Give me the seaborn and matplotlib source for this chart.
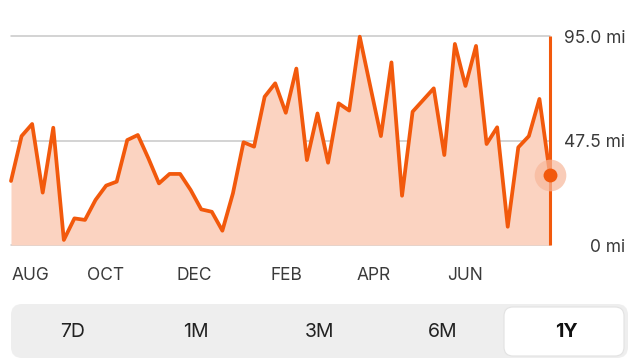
import numpy as np
import pandas as pd
import matplotlib
matplotlib.use("Agg")
import matplotlib.pyplot as plt
from matplotlib.patches import FancyBboxPatch
import seaborn as sns

# weekly distance over one year (miles)
miles = [29.1, 49.5, 55.0, 23.8, 53.3, 2.3, 12.1, 11.4, 20.5, 27.0,
         28.8, 47.7, 50.0, 39.4, 28.0, 32.3, 32.3, 25.0, 16.2, 15.1,
         6.5, 23.5, 46.7, 44.7, 67.4, 73.5, 60.1, 80.2, 38.6, 59.8,
         37.4, 64.4, 61.1, 94.7, 72.0, 49.5, 83.0, 22.4, 60.6, 65.9,
         71.2, 40.9, 91.4, 72.3, 90.5, 45.9, 53.5, 8.3, 44.4, 49.5,
         66.4, 31.8]
weeks = list(range(len(miles)))

month_labels = ["AUG", "OCT", "DEC", "FEB", "APR", "JUN"]
month_pos = [0.07, 7.2, 15.7, 24.6, 32.7, 41.3]

y_ticks = [0, 47.5, 95.0]
y_labels = ["0 mi", "47.5 mi", "95.0 mi"]

ranges = ["7D", "1M", "3M", "6M", "1Y"]
selected = "1Y"

ORANGE = "#F2590C"
FILL = "#FBD3C1"

sns.set_theme(style="white")
plt.rcParams['font.family'] = ['Inter', 'DejaVu Sans']

df = pd.DataFrame({"week": weeks, "miles": miles})

fig = plt.figure(figsize=(6.4, 3.6), dpi=100)
W, H = 640, 360
ax = fig.add_axes([11 / W, 1 - 245 / H, (550 - 11) / W, (245 - 36) / H])

for v in y_ticks:
    ax.axhline(v, color="#c8c8c8", lw=1.1, zorder=0, clip_on=False)

ax.fill_between(df["week"], df["miles"], 0, color=FILL, lw=0, zorder=1)
sns.lineplot(data=df, x="week", y="miles", ax=ax, color=ORANGE, lw=2.7,
             zorder=3, clip_on=False)

last = len(miles) - 1
ax.plot([last, last], [0, 95], color=ORANGE, lw=2.2, zorder=2,
        solid_capstyle="butt", clip_on=False)
ax.scatter([last], [miles[-1]], s=520, color="#F7B79A", alpha=0.7,
           lw=0, zorder=4, clip_on=False)
ax.scatter([last], [miles[-1]], s=100, color=ORANGE, lw=0, zorder=5,
           clip_on=False)

ax.set_xlim(0, last)
ax.set_ylim(0, 95)
ax.set_xlabel("")
ax.set_ylabel("")
for s in ax.spines.values():
    s.set_visible(False)

ax.set_xticks(month_pos)
ax.set_xticklabels(month_labels, ha="left", fontsize=12.5, color="#3a3a3a")
ax.tick_params(axis="x", length=0, pad=16)

ax.yaxis.tick_right()
ax.set_yticks(y_ticks)
ax.set_yticklabels(y_labels, ha="right", fontsize=12.5, color="#3a3a3a")
ax.tick_params(axis="y", length=0, pad=54)

# segmented range control
ov = fig.add_axes([0, 0, 1, 1], zorder=-1)
ov.set_xlim(0, W)
ov.set_ylim(H, 0)
ov.axis("off")
ov.add_patch(FancyBboxPatch((11, 304), 617, 54, boxstyle="round,pad=0,rounding_size=11",
                            fc="#eeeeee", ec="none"))
seg_w = 617 / len(ranges)
for i, r in enumerate(ranges):
    cx = 11 + seg_w * (i + 0.5)
    if r == selected:
        ov.add_patch(FancyBboxPatch((504, 307), 120, 49,
                                    boxstyle="round,pad=0,rounding_size=9",
                                    fc="white", ec="#e2e2e2", lw=0.8))
        ov.text(cx, 332, r, ha="center", va="center", fontsize=14,
                fontweight="bold", color="#111111")
    else:
        ov.text(cx, 332, r, ha="center", va="center", fontsize=14,
                color="#222222")

fig.savefig("out.png", dpi=100)
